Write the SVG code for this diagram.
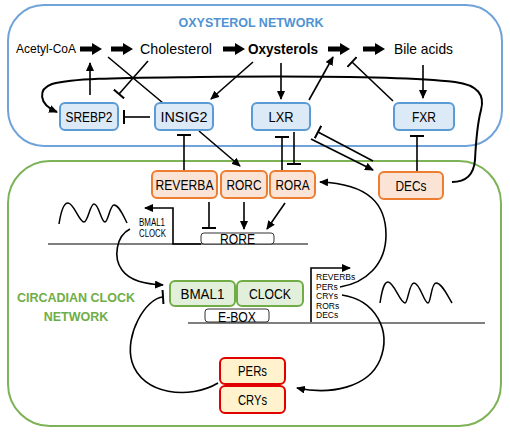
<svg xmlns="http://www.w3.org/2000/svg" width="510" height="435" viewBox="0 0 510 435">
<style>
text{font-family:"Liberation Sans",Arial,sans-serif;fill:#000}
.lbl{font-size:14px;text-anchor:middle}
.met{font-size:14px}
.sm{font-size:8.5px}
.blue rect{fill:#dce9f6;stroke:#5b9bd5;stroke-width:2}
.orange rect{fill:#fbe4d5;stroke:#ed7d31;stroke-width:2}
.green rect{fill:#e2efda;stroke:#70ad47;stroke-width:2}
.red rect{fill:#fff2cc;stroke:#e00000;stroke-width:2}
.c path{fill:none;stroke:#000;stroke-width:1.6}
.base{fill:none;stroke:#555;stroke-width:1.3}
.box{fill:#fff;stroke:#333;stroke-width:1}
.big{fill:#000}
</style>
<defs>
<marker id="arr" markerUnits="userSpaceOnUse" markerWidth="9" markerHeight="8" refX="8" refY="4" orient="auto"><path d="M0,0 L9,4 L0,8 z" fill="#000"/></marker>
<marker id="tee" markerUnits="userSpaceOnUse" markerWidth="4" markerHeight="14" refX="2" refY="7" orient="auto"><path d="M2,0 V14" stroke="#000" stroke-width="2"/></marker>
<path id="bigArrow" d="M0,-2.5 H12 V-6 L22,0 L12,6 V2.5 H0 Z"/>
</defs>

<g id="oxysterol-network">
<rect x="8" y="5" width="494" height="141" rx="36" fill="none" stroke="#6fa3d9" stroke-width="2"/>
<text x="251" y="27" style="font-size:12.5px;font-weight:bold;fill:#4f93d3" text-anchor="middle">OXYSTEROL NETWORK</text>
</g>
<g id="circadian-network">
<rect x="8" y="161" width="493" height="265" rx="42" fill="none" stroke="#7db356" stroke-width="2"/>
<text x="76" y="302" style="font-size:12.5px;font-weight:bold;fill:#70ad47" text-anchor="middle">CIRCADIAN CLOCK</text>
<text x="76" y="321" style="font-size:12.5px;font-weight:bold;fill:#70ad47" text-anchor="middle">NETWORK</text>
</g>

<g id="metabolites">
<text x="16" y="53" style="font-size:12.5px" textLength="60" lengthAdjust="spacingAndGlyphs">Acetyl-CoA</text>
<text x="140" y="54" class="met" style="font-size:14.5px" textLength="72" lengthAdjust="spacingAndGlyphs">Cholesterol</text>
<text x="248" y="54" class="met" style="font-weight:bold;font-size:14px" textLength="70" lengthAdjust="spacingAndGlyphs">Oxysterols</text>
<text x="394" y="54" class="met" style="font-size:14.5px" textLength="59" lengthAdjust="spacingAndGlyphs">Bile acids</text>
<use href="#bigArrow" x="80" y="49" class="big"/>
<use href="#bigArrow" x="111" y="49" class="big"/>
<use href="#bigArrow" x="223" y="49" class="big"/>
<use href="#bigArrow" x="328" y="49" class="big"/>
<use href="#bigArrow" x="363" y="49" class="big"/>
</g>

<g id="dna">
<path class="base" d="M48,244 H308"/>
<path class="base" d="M188,323 H485"/>
<path d="M59,224 C61,211 64,203 68,203 C74,203 79,222 84,222 C88,222 90,204 94,204 C99,204 101,222 105,222 C108,222 110,205 114,205 C119,205 123,215 127,223" fill="none" stroke="#000" stroke-width="1.5"/>
<path d="M380,303 C382,290 384,282 388,282 C394,282 400,303 405,303 C408,303 409,283 414,283 C420,283 424,303 428,303 C431,303 431,283 436,283 C442,283 447,295 452,303" fill="none" stroke="#000" stroke-width="1.5"/>
</g>

<g id="connectors" class="c">
<path d="M90,95 V63" marker-end="url(#arr)"/>
<path d="M163,103 L108,57"/>
<path d="M148,61 L119,94" marker-end="url(#tee)"/>
<path d="M150,117 H124" marker-end="url(#tee)"/>
<path d="M253,62 L211,99" marker-end="url(#arr)"/>
<path d="M281,63 V99" marker-end="url(#arr)"/>
<path d="M309,100 L333,57" marker-end="url(#arr)"/>
<path d="M393,101 L352,62" marker-end="url(#tee)"/>
<path d="M423,65 V98" marker-end="url(#arr)"/>
<path d="M452,182 C469,182 474,172 475,160 C476,140 477,125 481,110 C485,95 478,85 455,82 C400,76 300,76 200,77 C120,78 75,78 52,84 C38,89 38,104 57,112" marker-end="url(#arr)" style="stroke-width:2"/>
<path d="M184,170 V135" marker-end="url(#tee)"/>
<path d="M199,131 L240,166" marker-end="url(#arr)"/>
<path d="M282,170 V137" marker-end="url(#tee)"/>
<path d="M294,132 V164" marker-end="url(#tee)"/>
<path d="M311,139 L373,170" marker-end="url(#arr)"/>
<path d="M373,161 L318,132" marker-end="url(#tee)"/>
<path d="M417,171 V136" marker-end="url(#tee)"/>
<path d="M209,202 V228" marker-end="url(#tee)"/>
<path d="M244,202 V229" marker-end="url(#arr)"/>
<path d="M285,203 L267,229" marker-end="url(#arr)"/>
<path d="M201,244 H173 V208 H145" marker-end="url(#arr)"/>
<path d="M130,229 C116,236 113,258 122,270 C130,281 145,284 163,285" marker-end="url(#arr)"/>
<path d="M218,383 C190,400 142,395 132,362 C124,335 146,298 163,297" marker-end="url(#tee)"/>
<path d="M311,322 V268 H350" marker-end="url(#arr)"/>
<path d="M340,287 C365,283 386,265 386,235 C386,205 370,184 320,182" marker-end="url(#arr)"/>
<path d="M342,295 C375,300 392,330 380,360 C368,388 330,395 297,388" marker-end="url(#arr)"/>
</g>

<g id="RORE"><rect class="box" x="201" y="233" width="73" height="11" rx="3"/><text x="237.5" y="244" class="lbl" textLength="35" lengthAdjust="spacingAndGlyphs">RORE</text></g>
<g id="EBOX"><rect class="box" x="205" y="309" width="64" height="13" rx="3"/><text x="237" y="322" class="lbl" textLength="38" lengthAdjust="spacingAndGlyphs">E-BOX</text></g>

<g id="labels-bmal">
<text x="139" y="226" class="sm" textLength="26" lengthAdjust="spacingAndGlyphs" style="font-size:10px">BMAL1</text>
<text x="139" y="237" class="sm" textLength="27" lengthAdjust="spacingAndGlyphs" style="font-size:10px">CLOCK</text>
</g>
<g id="labels-targets">
<text x="316" y="280" class="sm">REVERBs</text>
<text x="316" y="289.5" class="sm">PERs</text>
<text x="316" y="299" class="sm">CRYs</text>
<text x="316" y="308.5" class="sm">RORs</text>
<text x="316" y="318" class="sm">DECs</text>
</g>

<g id="SREBP2" class="blue"><rect x="60" y="103" width="58" height="27" rx="5"/><text x="89" y="122" class="lbl" textLength="47" lengthAdjust="spacingAndGlyphs">SREBP2</text></g>
<g id="INSIG2" class="blue"><rect x="155" y="103" width="58" height="27" rx="5"/><text x="184" y="122" class="lbl" textLength="47" lengthAdjust="spacingAndGlyphs">INSIG2</text></g>
<g id="LXR" class="blue"><rect x="252" y="103" width="58" height="27" rx="5"/><text x="281" y="122" class="lbl" textLength="25" lengthAdjust="spacingAndGlyphs">LXR</text></g>
<g id="FXR" class="blue"><rect x="394" y="103" width="60" height="27" rx="5"/><text x="424" y="122" class="lbl" textLength="24" lengthAdjust="spacingAndGlyphs">FXR</text></g>

<g id="REVERBA" class="orange"><rect x="152" y="171" width="65" height="27" rx="5"/><text x="184.5" y="190" class="lbl" textLength="58" lengthAdjust="spacingAndGlyphs">REVERBA</text></g>
<g id="RORC" class="orange"><rect x="221" y="171" width="46" height="27" rx="5"/><text x="244" y="190" class="lbl" textLength="35" lengthAdjust="spacingAndGlyphs">RORC</text></g>
<g id="RORA" class="orange"><rect x="270" y="171" width="45" height="27" rx="5"/><text x="292.5" y="190" class="lbl" textLength="34" lengthAdjust="spacingAndGlyphs">RORA</text></g>
<g id="DECs" class="orange"><rect x="379" y="172" width="64" height="27" rx="5"/><text x="411" y="191" class="lbl" textLength="31" lengthAdjust="spacingAndGlyphs">DECs</text></g>

<g id="BMAL1" class="green"><rect x="170" y="281" width="65" height="25" rx="5"/><text x="202.5" y="298.5" class="lbl" textLength="44" lengthAdjust="spacingAndGlyphs">BMAL1</text></g>
<g id="CLOCK" class="green"><rect x="237" y="281" width="66" height="25" rx="5"/><text x="270" y="298.5" class="lbl" textLength="42" lengthAdjust="spacingAndGlyphs">CLOCK</text></g>

<g id="PERs" class="red"><rect x="220" y="358" width="65" height="26" rx="5"/><text x="252.5" y="376" class="lbl" textLength="29" lengthAdjust="spacingAndGlyphs">PERs</text></g>
<g id="CRYs" class="red"><rect x="220" y="386" width="65" height="27" rx="5"/><text x="252.5" y="404.5" class="lbl" textLength="29" lengthAdjust="spacingAndGlyphs">CRYs</text></g>
</svg>
